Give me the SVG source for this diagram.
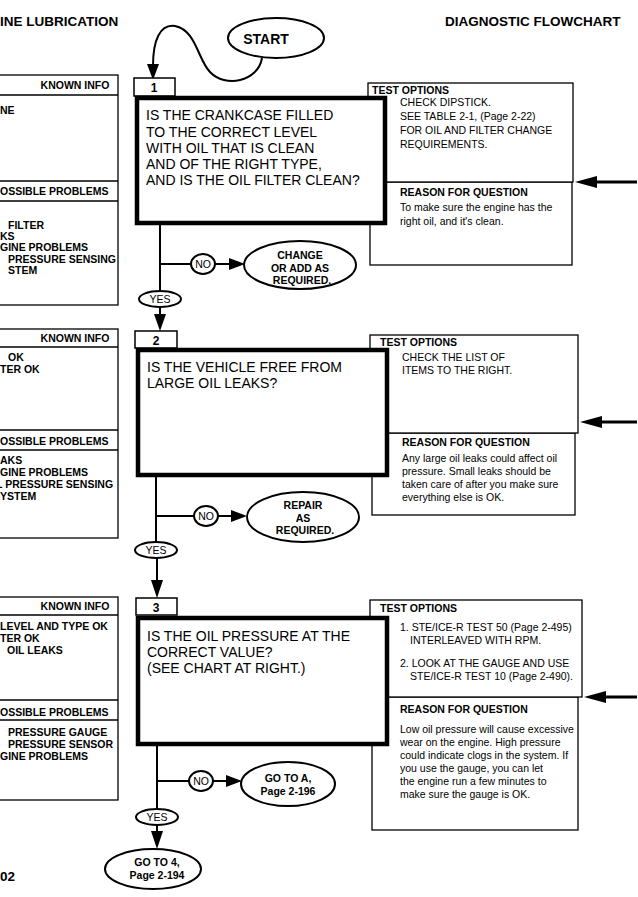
<svg xmlns="http://www.w3.org/2000/svg" width="638" height="897" viewBox="0 0 638 897">
<style>
text{font-family:"Liberation Sans",Arial,sans-serif;fill:#000}
.hdr{font-size:13.5px;font-weight:bold}
.q{font-size:14px}
.lb{font-size:10.5px;font-weight:bold}
.b{font-size:10.5px}
.tab{font-size:12px;font-weight:bold}
.thin{fill:#fff;stroke:#000;stroke-width:1.3}
.thick{fill:#fff;stroke:#000;stroke-width:4.5}
.ell{fill:#fff;stroke:#000;stroke-width:2}
.ln{fill:none;stroke:#000;stroke-width:2}
.c{text-anchor:middle}
</style>
<defs>
<marker id="ah" markerWidth="10" markerHeight="8" refX="10" refY="4" orient="auto" markerUnits="userSpaceOnUse">
<path d="M0,0 L10,4 L0,8 z" fill="#000"/>
</marker>
</defs>
<rect width="638" height="897" fill="#fff"/>

<text class="hdr" x="0" y="26">INE LUBRICATION</text>
<text class="hdr" x="445" y="26">DIAGNOSTIC FLOWCHART</text>
<text class="hdr" x="0" y="881">02</text>

<!-- Left column info boxes -->
<g id="known1">
<rect class="thin" x="-2" y="75" width="120" height="230"/>
<line class="thin" x1="-2" y1="95" x2="118" y2="95"/>
<line class="thin" x1="-2" y1="181" x2="118" y2="181"/>
<line class="thin" x1="-2" y1="201" x2="118" y2="201"/>
<text class="lb c" x="75" y="89">KNOWN INFO</text>
<text class="lb" x="0" y="114">NE</text>
<text class="lb" x="0" y="195">OSSIBLE PROBLEMS</text>
<text class="lb" x="8" y="229">FILTER</text>
<text class="lb" x="0" y="240">KS</text>
<text class="lb" x="0" y="251">GINE PROBLEMS</text>
<text class="lb" x="8" y="263">PRESSURE SENSING</text>
<text class="lb" x="8" y="274">STEM</text>
</g>
<g id="known2">
<rect class="thin" x="-2" y="329" width="120" height="209"/>
<line class="thin" x1="-2" y1="347" x2="118" y2="347"/>
<line class="thin" x1="-2" y1="430" x2="118" y2="430"/>
<line class="thin" x1="-2" y1="450" x2="118" y2="450"/>
<text class="lb c" x="75" y="342">KNOWN INFO</text>
<text class="lb" x="8" y="361">OK</text>
<text class="lb" x="0" y="373">TER OK</text>
<text class="lb" x="0" y="445">OSSIBLE PROBLEMS</text>
<text class="lb" x="0" y="464">AKS</text>
<text class="lb" x="0" y="476">GINE PROBLEMS</text>
<text class="lb" x="-4" y="488">L PRESSURE SENSING</text>
<text class="lb" x="0" y="500">YSTEM</text>
</g>
<g id="known3">
<rect class="thin" x="-2" y="597" width="120" height="203"/>
<line class="thin" x1="-2" y1="615" x2="118" y2="615"/>
<line class="thin" x1="-2" y1="700" x2="118" y2="700"/>
<line class="thin" x1="-2" y1="720" x2="118" y2="720"/>
<text class="lb c" x="75" y="610">KNOWN INFO</text>
<text class="lb" x="0" y="630">LEVEL AND TYPE OK</text>
<text class="lb" x="0" y="642">TER OK</text>
<text class="lb" x="7" y="654">OIL LEAKS</text>
<text class="lb" x="0" y="716">OSSIBLE PROBLEMS</text>
<text class="lb" x="8" y="736">PRESSURE GAUGE</text>
<text class="lb" x="8" y="748">PRESSURE SENSOR</text>
<text class="lb" x="0" y="760">GINE PROBLEMS</text>
</g>

<!-- Test option / reason boxes -->
<g id="test1">
<rect class="thin" x="370" y="182" width="202" height="83"/>
<rect class="thin" x="368" y="83" width="205" height="99"/>
<text class="lb" x="372" y="94">TEST OPTIONS</text>
<text class="b" x="400" y="106">CHECK DIPSTICK.</text>
<text class="b" x="400" y="120">SEE TABLE 2-1, (Page 2-22)</text>
<text class="b" x="400" y="134">FOR OIL AND FILTER CHANGE</text>
<text class="b" x="400" y="148">REQUIREMENTS.</text>
<text class="lb" x="400" y="196">REASON FOR QUESTION</text>
<text class="b" x="400" y="211">To make sure the engine has the</text>
<text class="b" x="400" y="225">right oil, and it's clean.</text>
</g>
<g id="test2">
<rect class="thin" x="372" y="433" width="203" height="82"/>
<rect class="thin" x="370" y="335" width="208" height="98"/>
<text class="lb" x="380" y="346">TEST OPTIONS</text>
<text class="b" x="402" y="361">CHECK THE LIST OF</text>
<text class="b" x="402" y="374">ITEMS TO THE RIGHT.</text>
<text class="lb" x="402" y="446">REASON FOR QUESTION</text>
<text class="b" x="402" y="462">Any large oil leaks could affect oil</text>
<text class="b" x="402" y="475">pressure. Small leaks should be</text>
<text class="b" x="402" y="488">taken care of after you make sure</text>
<text class="b" x="402" y="501">everything else is OK.</text>
</g>
<g id="test3">
<rect class="thin" x="372" y="697" width="206" height="133"/>
<rect class="thin" x="370" y="600" width="212" height="97"/>
<text class="lb" x="380" y="612">TEST OPTIONS</text>
<text class="b" x="400" y="631">1. STE/ICE-R TEST 50 (Page 2-495)</text>
<text class="b" x="410" y="644">INTERLEAVED WITH RPM.</text>
<text class="b" x="400" y="667">2. LOOK AT THE GAUGE AND USE</text>
<text class="b" x="410" y="680">STE/ICE-R TEST 10 (Page 2-490).</text>
<text class="lb" x="400" y="713">REASON FOR QUESTION</text>
<text class="b" x="400" y="733">Low oil pressure will cause excessive</text>
<text class="b" x="400" y="746">wear on the engine. High pressure</text>
<text class="b" x="400" y="759">could indicate clogs in the system. If</text>
<text class="b" x="400" y="772">you use the gauge, you can let</text>
<text class="b" x="400" y="785">the engine run a few minutes to</text>
<text class="b" x="400" y="798">make sure the gauge is OK.</text>
</g>

<!-- Connectors -->
<g id="connectors">
<path class="ln" d="M262 58 C258 82 225 88 210 72 C198 60 196 30 175 26 C160 24 153 40 153 66"/>
<path d="M147 64 L159 64 L153 80 z"/>
<line class="ln" x1="160" y1="224" x2="160" y2="292"/>
<line class="ln" x1="160" y1="264" x2="191" y2="264"/>
<line class="ln" x1="215" y1="264" x2="231" y2="264"/>
<path d="M229 258 L245 264 L229 270 z"/>
<line class="ln" x1="160" y1="307" x2="160" y2="316"/>
<path d="M154 314 L166 314 L160 331 z"/>

<line class="ln" x1="156" y1="476" x2="156" y2="543"/>
<line class="ln" x1="156" y1="516" x2="194" y2="516"/>
<line class="ln" x1="218" y1="516" x2="233" y2="516"/>
<path d="M231 510 L247 516 L231 522 z"/>
<line class="ln" x1="157" y1="558" x2="157" y2="582"/>
<path d="M151 580 L163 580 L157 598 z"/>

<line class="ln" x1="157" y1="745" x2="157" y2="810"/>
<line class="ln" x1="157" y1="781" x2="189" y2="781"/>
<line class="ln" x1="213" y1="781" x2="228" y2="781"/>
<path d="M226 775 L242 781 L226 787 z"/>
<line class="ln" x1="157" y1="825" x2="157" y2="833"/>
<path d="M151 831 L163 831 L157 849 z"/>

<line stroke="#000" stroke-width="3" x1="637" y1="182" x2="594" y2="182"/>
<path d="M597 176 L575 182 L597 188 z"/>
<line stroke="#000" stroke-width="3" x1="637" y1="422" x2="599" y2="422"/>
<path d="M602 416 L580 422 L602 428 z"/>
<line stroke="#000" stroke-width="3" x1="637" y1="697" x2="603" y2="697"/>
<path d="M606 691 L584 697 L606 703 z"/>
</g>

<!-- Start -->
<g id="start">
<ellipse class="ell" cx="276" cy="38" rx="48" ry="20"/>
<text class="c" x="266" y="44" style="font-size:14px;font-weight:bold">START</text>
</g>

<!-- Question boxes -->
<g id="q1">
<rect class="thin" x="134" y="78" width="41" height="18" style="stroke-width:1.5"/>
<text class="tab c" x="154" y="92">1</text>
<rect class="thick" x="137" y="98" width="248" height="125"/>
<text class="q" x="146" y="120">IS THE CRANKCASE FILLED</text>
<text class="q" x="146" y="137">TO THE CORRECT LEVEL</text>
<text class="q" x="146" y="153">WITH OIL THAT IS CLEAN</text>
<text class="q" x="146" y="169">AND OF THE RIGHT TYPE,</text>
<text class="q" x="146" y="185">AND IS THE OIL FILTER CLEAN?</text>
</g>
<g id="no1">
<ellipse class="ell" cx="203" cy="264" rx="12" ry="10"/>
<text class="c" x="203" y="268" style="font-size:10.5px">NO</text>
</g>
<g id="change1">
<ellipse class="ell" cx="300" cy="265" rx="56" ry="24"/>
<text class="lb c" x="300" y="259">CHANGE</text>
<text class="lb c" x="300" y="272">OR ADD AS</text>
<text class="lb c" x="302" y="284">REQUIRED.</text>
</g>
<g id="yes1">
<ellipse class="ell" cx="160" cy="299" rx="21" ry="8"/>
<text class="c" x="160" y="303" style="font-size:10.5px">YES</text>
</g>

<g id="q2">
<rect class="thin" x="135" y="331" width="42" height="17" style="stroke-width:1.5"/>
<text class="tab c" x="156" y="345">2</text>
<rect class="thick" x="138" y="350" width="249" height="125"/>
<text class="q" x="147" y="372">IS THE VEHICLE FREE FROM</text>
<text class="q" x="147" y="388">LARGE OIL LEAKS?</text>
</g>
<g id="no2">
<ellipse class="ell" cx="206" cy="516" rx="12" ry="10"/>
<text class="c" x="206" y="520" style="font-size:10.5px">NO</text>
</g>
<g id="repair2">
<ellipse class="ell" cx="303" cy="517" rx="56" ry="25"/>
<text class="lb c" x="303" y="509">REPAIR</text>
<text class="lb c" x="303" y="522">AS</text>
<text class="lb c" x="305" y="534">REQUIRED.</text>
</g>
<g id="yes2">
<ellipse class="ell" cx="156" cy="550" rx="21" ry="8"/>
<text class="c" x="156" y="554" style="font-size:10.5px">YES</text>
</g>

<g id="q3">
<rect class="thin" x="136" y="598" width="41" height="17" style="stroke-width:1.5"/>
<text class="tab c" x="156" y="612">3</text>
<rect class="thick" x="138" y="618" width="249" height="126"/>
<text class="q" x="147" y="641">IS THE OIL PRESSURE AT THE</text>
<text class="q" x="147" y="657">CORRECT VALUE?</text>
<text class="q" x="147" y="673">(SEE CHART AT RIGHT.)</text>
</g>
<g id="no3">
<ellipse class="ell" cx="201" cy="781" rx="12" ry="10"/>
<text class="c" x="201" y="785" style="font-size:10.5px">NO</text>
</g>
<g id="gotoA">
<ellipse class="ell" cx="288" cy="784" rx="47" ry="22"/>
<text class="lb c" x="288" y="782">GO TO A,</text>
<text class="lb c" x="288" y="795">Page 2-196</text>
</g>
<g id="yes3">
<ellipse class="ell" cx="157" cy="817" rx="21" ry="8"/>
<text class="c" x="157" y="821" style="font-size:10.5px">YES</text>
</g>
<g id="goto4">
<ellipse class="ell" cx="153" cy="869" rx="48" ry="20"/>
<text class="lb c" x="157" y="866">GO TO 4,</text>
<text class="lb c" x="157" y="879">Page 2-194</text>
</g>
</svg>
